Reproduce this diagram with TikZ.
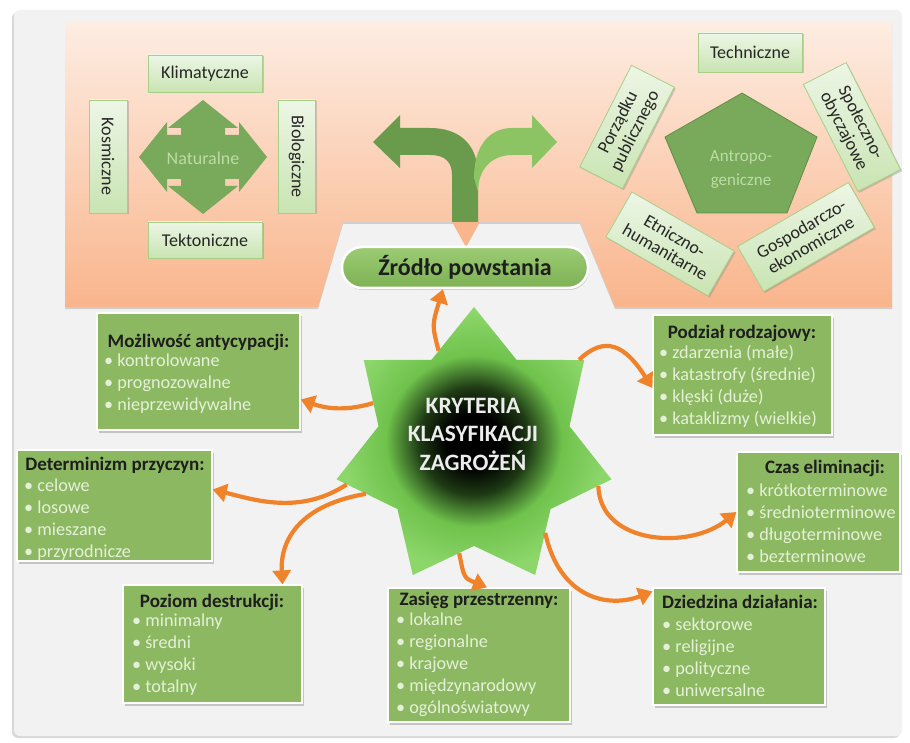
\documentclass[tikz,border=0pt]{standalone}
\usepackage{fontspec}
\setmainfont{Carlito}
\usetikzlibrary{shapes.geometric,shadows,arrows.meta,calc}

\definecolor{framebg}{HTML}{F2F2F2}
\definecolor{peachtop}{HTML}{FDEDE2}
\definecolor{peachbot}{HTML}{F9B58C}
\definecolor{boxgreen}{HTML}{8DB862}
\definecolor{itemgreen}{HTML}{E4F0D8}
\definecolor{headblack}{HTML}{1E1E1E}
\definecolor{palegreenA}{HTML}{EDF6E6}
\definecolor{palegreenB}{HTML}{C9E4B2}
\definecolor{paleedge}{HTML}{A8CF88}
\definecolor{midgreen}{HTML}{79A95A}
\definecolor{midgreenedge}{HTML}{5F8F45}
\definecolor{labelgreen}{HTML}{BCDCA6}
\definecolor{darkbranch}{HTML}{6A9A4C}
\definecolor{lightbranch}{HTML}{8CC463}
\definecolor{stargreen}{HTML}{6FC24C}
\definecolor{stargreenlight}{HTML}{8CD66A}
\definecolor{stardark}{HTML}{1E3A14}
\definecolor{arroworange}{HTML}{F0832A}
\definecolor{pillgreenA}{HTML}{9CCB74}
\definecolor{pillgreenB}{HTML}{7DB254}
\definecolor{startext}{HTML}{ECECEC}

\pgfdeclareradialshading{starglow}{\pgfpoint{0bp}{0bp}}{%
  color(0bp)=(black); color(5bp)=(black); color(10bp)=(stardark);
  color(16bp)=(stargreen); color(24bp)=(stargreenlight); color(50bp)=(stargreenlight)}

\newcommand{\bul}{\textbullet\ }

\tikzset{
  pbox/.style={draw=paleedge, line width=0.8pt, top color=palegreenA,
    bottom color=palegreenB, text=black!85, align=center, inner sep=2pt,
    font=\fontsize{18}{19}\selectfont,
    drop shadow={shadow xshift=1.5pt, shadow yshift=-1.5pt, opacity=0.35}},
  gbox/.style={fill=boxgreen, draw=white, line width=1.2pt,
    drop shadow={shadow xshift=2pt, shadow yshift=-2.5pt, opacity=0.4}},
  headtxt/.style={text=headblack, font=\fontsize{19}{22}\selectfont\bfseries},
  itemtxt/.style={text=itemgreen, align=left, inner sep=0pt,
    font=\fontsize{18.2}{22}\selectfont},
  oarr/.style={draw=arroworange, line width=4.2pt,
    -{Triangle[width=18pt,length=14pt]}},
  inlabel/.style={text=labelgreen, font=\fontsize{18}{22}\selectfont, align=center}
}

\begin{document}
\begin{tikzpicture}[x=1pt,y=-1pt]
\useasboundingbox (0,0) rectangle (910,743);
\fill[white] (0,0) rectangle (910,743);

% outer frame
\fill[rounded corners=6pt, framebg,
  drop shadow={shadow xshift=-2pt, shadow yshift=-2pt, opacity=0.3}]
  (14,10) rectangle (902,736);

% peach panel with the trapezoid cut-out
\path[top color=peachtop, bottom color=peachbot,
  drop shadow={shadow xshift=0pt, shadow yshift=-2pt, opacity=0.3}]
  (65,22) -- (892,22) -- (892,307) -- (615,307) -- (580,222) -- (343,222)
  -- (318,307) -- (65,307) -- cycle;
\fill[peachbot] (452,222) -- (480,222) -- (466,247) -- cycle;

% natural sources: four-way arrow
\fill[midgreen] (203,100) -- (238,128) -- (225,128) -- (225,135) -- (239,135)
  -- (239,122) -- (267,157) -- (239,192) -- (239,179) -- (225,179) -- (225,186)
  -- (238,186) -- (203,214) -- (168,186) -- (181,186) -- (181,179) -- (167,179)
  -- (167,192) -- (139,157) -- (167,122) -- (167,135) -- (181,135) -- (181,128)
  -- (168,128) -- cycle;
\node[inlabel] (natur) at (203,158) {Naturalne};
\node[pbox, minimum width=114pt, minimum height=37pt] (klim) at (205,73.5) {Klimatyczne};
\node[pbox, minimum width=114pt, minimum height=36pt] (tekt) at (205,240) {Tektoniczne};
\node[pbox, rotate=-90, minimum width=113pt, minimum height=38pt] (kosm) at (108,156.5) {Kosmiczne};
\node[pbox, rotate=-90, minimum width=113pt, minimum height=37pt] (biol) at (296.5,156.5) {Biologiczne};

% anthropogenic sources
\filldraw[fill=midgreen, draw=midgreenedge, line width=0.8pt]
  (742,93) -- (817,137) -- (787,213) -- (697,213) -- (665,137) -- cycle;
\node[inlabel, font=\fontsize{17}{24}\selectfont] (antro) at (741,170) {Antropo-\\geniczne};
\node[pbox, minimum width=104pt, minimum height=39pt] (tech) at (750,52.5) {Techniczne};
\node[pbox, rotate=63, minimum width=114pt, minimum height=48pt] (porz) at (627,127) {Porządku\\publicznego};
\node[pbox, rotate=-63, minimum width=120pt, minimum height=48pt] (spol) at (852,127) {Społeczno-\\obyczajowe};
\node[pbox, rotate=-30, minimum width=118pt, minimum height=52pt] (etn) at (670,244) {Etniczno-\\humanitarne};
\node[pbox, rotate=30, minimum width=128pt, minimum height=52pt] (gosp) at (806,237) {Gospodarczo-\\ekonomiczne};

% split arrow
\fill[darkbranch] (452,222) -- (452,175) .. controls (452,162) and (445,155) .. (430,155)
  -- (400,155) -- (400,168) -- (373,142) -- (400,115) -- (400,128) -- (430,128)
  .. controls (460,128) and (478,145) .. (478,175) -- (478,222) -- cycle;
\fill[lightbranch] (474,178) .. controls (474,145) and (490,128) .. (512,128)
  -- (532,128) -- (532,115) -- (557,142) -- (532,168) -- (532,155) -- (512,155)
  .. controls (495,155) and (478,166) .. (478,192) -- cycle;

% source label
\node[draw=white, line width=2.5pt, rounded corners=20pt, top color=pillgreenA,
  bottom color=pillgreenB, minimum width=246pt, minimum height=41pt,
  font=\fontsize{24}{26}\selectfont\bfseries, text=headblack,
  drop shadow={shadow xshift=1pt, shadow yshift=-2pt, opacity=0.35}]
  (zrodlo) at (465,267.5) {Źródło powstania};

% central star
\node[star, star points=7, star point ratio=1.44, minimum size=282pt,
  inner sep=0pt, shading=starglow] (krit) at (474,448) {};
\node[text=startext, align=center, font=\fontsize{23.5}{28.5}\selectfont\bfseries]
  (krittxt) at (473,434) {KRYTERIA\\KLASYFIKACJI\\ZAGROŻEŃ};

% criteria boxes
\node[gbox, minimum width=203pt, minimum height=117pt] (antic) at (198.5,371.5) {};
\node[headtxt] (antic-h) at (198.5,342) {Możliwość antycypacji:};
\node[itemtxt, anchor=west] (antic-l) at (104,384) {\bul kontrolowane\\\bul prognozowalne\\\bul nieprzewidywalne};

\node[gbox, minimum width=179pt, minimum height=120pt] (podz) at (742.5,375) {};
\node[headtxt] (podz-h) at (742,333) {Podział rodzajowy:};
\node[itemtxt, anchor=west] (podz-l) at (659,386) {\bul zdarzenia (małe)\\\bul katastrofy (średnie)\\\bul klęski (duże)\\\bul kataklizmy (wielkie)};

\node[gbox, minimum width=195pt, minimum height=111pt] (determ) at (114.5,505.5) {};
\node[headtxt] (determ-h) at (115,465) {Determinizm przyczyn:};
\node[itemtxt, anchor=west] (determ-l) at (24,520) {\bul celowe\\\bul losowe\\\bul mieszane\\\bul przyrodnicze};

\node[gbox, minimum width=163pt, minimum height=120pt] (czas) at (818.5,512) {};
\node[headtxt] (czas-h) at (825,468) {Czas eliminacji:};
\node[itemtxt, anchor=west] (czas-l) at (746,523) {\bul krótkoterminowe\\\bul średnioterminowe\\\bul długoterminowe\\\bul bezterminowe};

\node[gbox, minimum width=179pt, minimum height=118pt] (poziom) at (212.5,644) {};
\node[headtxt] (poziom-h) at (212,602) {Poziom destrukcji:};
\node[itemtxt, anchor=west] (poziom-l) at (132,655) {\bul minimalny\\\bul średni\\\bul wysoki\\\bul totalny};

\node[gbox, minimum width=182pt, minimum height=134pt] (zasieg) at (479,655) {};
\node[headtxt] (zasieg-h) at (479,600) {Zasięg przestrzenny:};
\node[itemtxt, anchor=west] (zasieg-l) at (396,665) {\bul lokalne\\\bul regionalne\\\bul krajowe\\\bul międzynarodowy\\\bul ogólnoświatowy};

\node[gbox, minimum width=172pt, minimum height=117pt] (dziedz) at (739,646.5) {};
\node[headtxt] (dziedz-h) at (740,602) {Dziedzina działania:};
\node[itemtxt, anchor=west] (dziedz-l) at (662,657) {\bul sektorowe\\\bul religijne\\\bul polityczne\\\bul uniwersalne};

% connectors from the star
\draw[oarr] (krit.110) .. controls (432,325) .. ([xshift=-22pt]zrodlo.south);
\draw[oarr] (krit.156) .. controls (350,410) and (330,410) .. ([yshift=-28pt]antic.east);
\draw[oarr] (krit.40) .. controls (605,335) and (625,345) .. ([yshift=-13pt]podz.west);
\draw[oarr] (krit.196) .. controls (300,515) and (255,500) .. ([yshift=16pt]determ.east);
\draw[oarr] (krit.203) .. controls (300,505) and (280,540) .. ([xshift=70pt]poziom.north);
\draw[oarr] (krit.262) .. controls (464,578) .. ([xshift=8pt]zasieg.north);
\draw[oarr] (krit.-50) .. controls (560,600) and (610,608) .. ([yshift=-4pt]dziedz.north west);
\draw[oarr] (krit.-17) .. controls (600,545) and (690,550) .. (czas.west);
\end{tikzpicture}
\end{document}
